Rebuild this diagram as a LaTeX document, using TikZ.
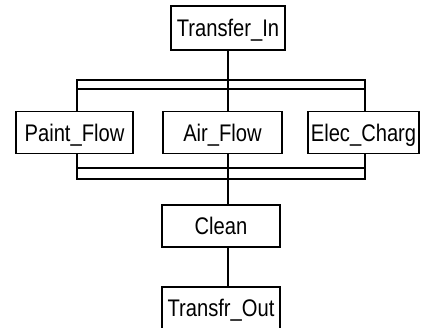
\documentclass[tikz,border=0pt]{standalone}
\usepackage{fontspec}
\setmainfont{Liberation Sans}[FakeStretch=0.84]
\usepackage{tikz}
\usetikzlibrary{positioning, calc}
\tikzset{
    stepNode/.style={rectangle, draw=black, line width=1.8pt, fill=white, inner sep=0pt,
        minimum height=42, font=\fontsize{24}{28}\selectfont, text height=17pt, text depth=0pt},
    barLine/.style={line width=1.8pt, line join=miter}
}

\begin{document}
\begin{tikzpicture}[x=1pt, y=-1pt]
    \useasboundingbox (0,0) rectangle (428,327);
    % step boxes
    \node[stepNode, minimum width=114, minimum height=44] (TransferIn) at (228,28) {Transfer\_In};
    \node[stepNode, minimum width=117] (PaintFlow) at (74.5,132.5) {Paint\_Flow};
    \node[stepNode, minimum width=119] (AirFlow) at (222.5,132.5) {Air\_Flow};
    \node[stepNode, minimum width=111] (ElecCharg) at (363.5,132.5) {Elec\_Charg};
    \node[stepNode, minimum width=118] (Clean) at (221,226) {Clean\hspace{14pt}};
    \node[stepNode, minimum width=118] (TransfrOut) at (221,308) {Transfr\_Out};
    % simultaneous split and join
    \coordinate (splitTL) at (77,80);  \coordinate (splitBR) at (365,89);
    \coordinate (joinTL) at (77,168);  \coordinate (joinBR) at (365,179);
    \draw[barLine] (splitTL |- PaintFlow.north) -- (splitTL) -- (splitTL -| splitBR) -- (splitBR |- ElecCharg.north);
    \draw[barLine] (splitTL |- splitBR) -- (splitBR);
    \draw[barLine] (joinTL |- PaintFlow.south) -- (joinTL |- joinBR) -- (joinBR) -- (joinBR |- ElecCharg.south);
    \draw[barLine] (joinTL) -- (joinTL -| joinBR);
    % main line
    \draw[barLine] (TransferIn.south) -- (TransferIn |- AirFlow.north);
    \draw[barLine] (TransferIn |- AirFlow.south) -- (TransferIn |- Clean.north);
    \draw[barLine] (TransferIn |- Clean.south) -- (TransferIn |- TransfrOut.north);
\end{tikzpicture}
\end{document}
